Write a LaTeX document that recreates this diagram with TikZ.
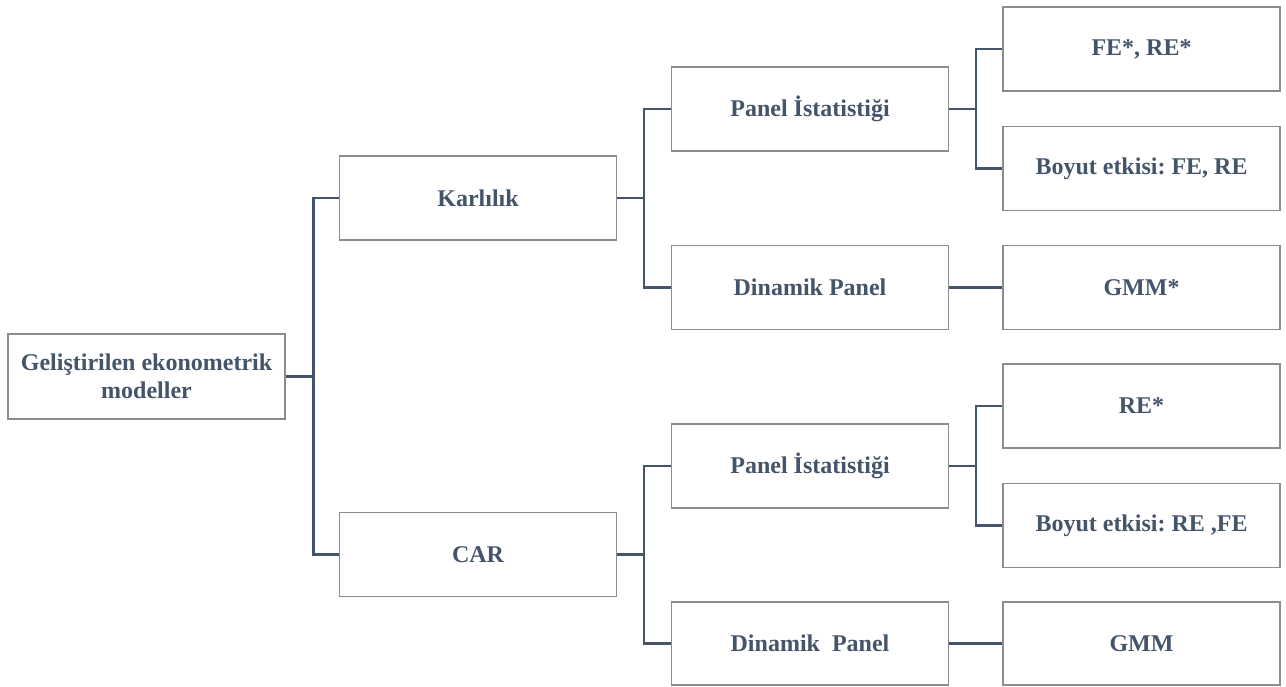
\documentclass[tikz,border=0pt]{standalone}
\usepackage{fontspec}
\setmainfont{Liberation Serif}
\frenchspacing
\definecolor{txt}{HTML}{44546A}
\definecolor{bord}{HTML}{8C8C8C}
\begin{document}
\begin{tikzpicture}[x=1pt,y=-1pt,
  box/.style={draw=bord, line width=1.2pt, fill=white, minimum width=277pt, minimum height=84pt,
    inner sep=0pt, align=center, text=txt, font=\fontsize{24}{27.6}\selectfont\bfseries},
  conn/.style={draw=txt, line width=2.5pt}]
\useasboundingbox (0,0) rectangle (1286,686);
% column 1
\node[box, minimum height=85pt] (root) at (146.5,376.5) {Geliştirilen ekonometrik\\modeller};
% column 2
\node[box] (kar) at (478,198) {Karlılık};
\node[box] (car) at (478,554.5) {CAR};
% column 3
\node[box] (p1) at (810,109) {Panel İstatistiği};
\node[box] (d1) at (810,287.5) {Dinamik Panel};
\node[box] (p2) at (810,466) {Panel İstatistiği};
\node[box, minimum height=83pt] (d2) at (810,643.5) {Dinamik\ \ Panel};
% column 4
\node[box] (fe) at (1141.5,49) {FE*, RE*};
\node[box] (b1) at (1141.5,168.5) {Boyut etkisi: FE, RE};
\node[box] (g1) at (1141.5,287.5) {GMM*};
\node[box] (re) at (1141.5,406) {RE*};
\node[box] (b2) at (1141.5,525.5) {Boyut etkisi: RE ,FE};
\node[box, minimum height=83pt] (g2) at (1141.5,643.5) {GMM};
% junctions
\coordinate (j0) at ([xshift=28pt]root.east);
\coordinate (j1) at ([xshift=27pt]kar.east);
\coordinate (j2) at ([xshift=27pt]car.east);
\coordinate (j3) at ([xshift=27pt]p1.east);
\coordinate (j4) at ([xshift=27pt]p2.east);
% connectors
\draw[conn] (root.east) -- (j0);
\draw[conn] (kar.west) -| (j0) |- (car.west);
\draw[conn] (kar.east) -- (j1);
\draw[conn] (p1.west) -| (j1) |- (d1.west);
\draw[conn] (car.east) -- (j2);
\draw[conn] (p2.west) -| (j2) |- (d2.west);
\draw[conn] (p1.east) -- (j3);
\draw[conn] (fe.west) -| (j3) |- (b1.west);
\draw[conn] (p2.east) -- (j4);
\draw[conn] (re.west) -| (j4) |- (b2.west);
\draw[conn] (d1.east) -- (g1.west);
\draw[conn] (d2.east) -- (g2.west);
\end{tikzpicture}
\end{document}
